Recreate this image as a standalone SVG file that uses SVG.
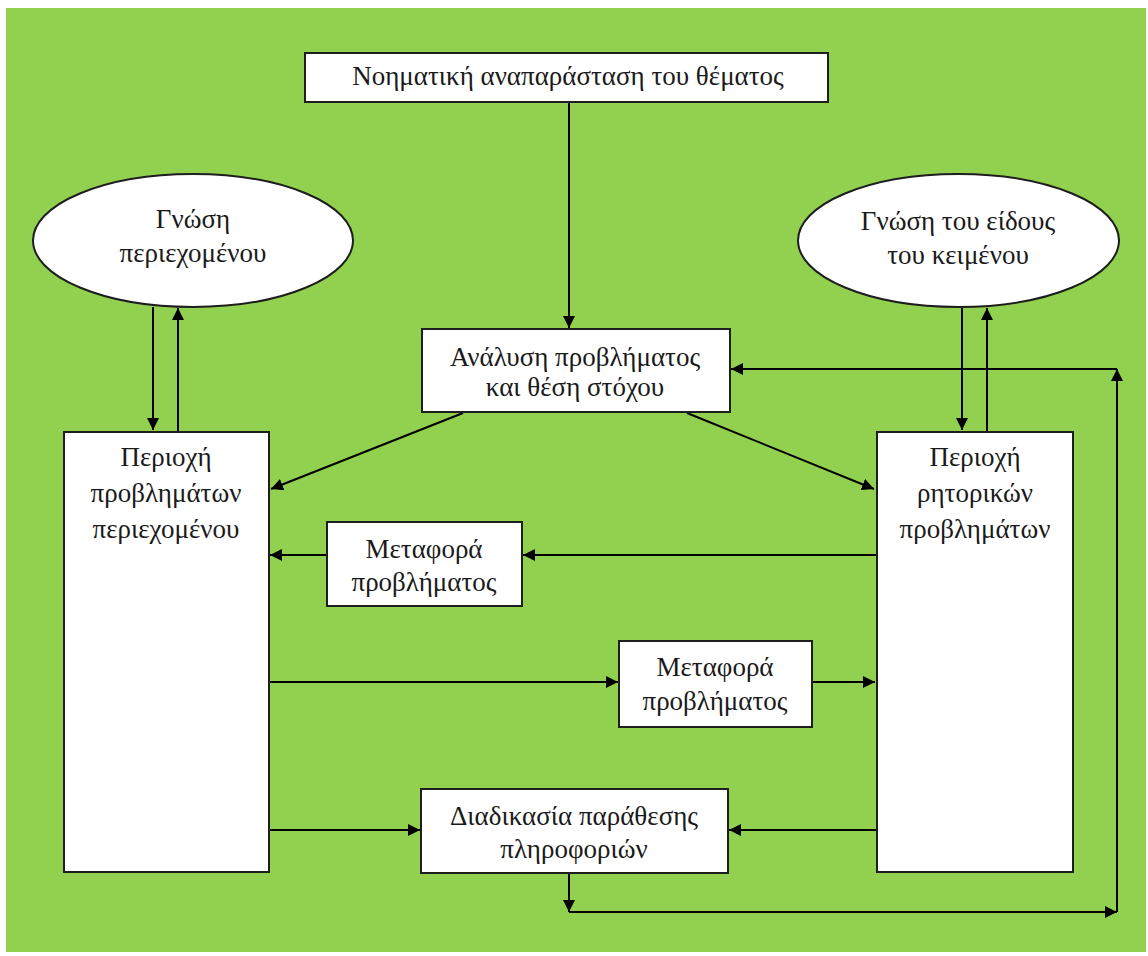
<svg xmlns="http://www.w3.org/2000/svg" width="1148" height="956" viewBox="0 0 1148 956">
  <style>
    .box { fill: #ffffff; stroke: #1e1e1e; stroke-width: 2; }
    .lbl { font-family: "Liberation Serif", "Times New Roman", serif; font-size: 27px; fill: #1a1a1a; text-anchor: middle; }
    .wire { fill: none; stroke: #000000; stroke-width: 2; }
    .arr { marker-end: url(#head); }
  </style>
  <defs>
    <marker id="head" markerUnits="userSpaceOnUse" markerWidth="13" markerHeight="12" refX="12" refY="6" orient="auto">
      <path d="M0,0 L12,6 L0,12 Z" fill="#000000"/>
    </marker>
  </defs>

  <!-- page -->
  <rect x="0" y="0" width="1148" height="956" fill="#ffffff"/>
  <rect x="6" y="8" width="1140" height="944" fill="#92D050"/>

  <!-- connectors -->
  <g id="connectors">
    <line class="wire arr" x1="569" y1="102" x2="569" y2="328"/>
    <line class="wire arr" x1="153" y1="307" x2="153" y2="430"/>
    <line class="wire arr" x1="178" y1="431" x2="178" y2="308"/>
    <line class="wire arr" x1="962" y1="307" x2="962" y2="430"/>
    <line class="wire arr" x1="987" y1="431" x2="987" y2="308"/>
    <line class="wire arr" x1="463" y1="413" x2="271" y2="489"/>
    <line class="wire arr" x1="687" y1="413" x2="874" y2="489"/>
    <line class="wire arr" x1="876" y1="555" x2="523" y2="555"/>
    <line class="wire arr" x1="327" y1="555" x2="270" y2="555"/>
    <line class="wire arr" x1="269" y1="682" x2="618" y2="682"/>
    <line class="wire arr" x1="812" y1="682" x2="875" y2="682"/>
    <line class="wire arr" x1="269" y1="830" x2="420" y2="830"/>
    <line class="wire arr" x1="876" y1="830" x2="729" y2="830"/>
    <line class="wire arr" x1="569" y1="873" x2="569" y2="912"/>
    <line class="wire arr" x1="569" y1="912" x2="1117" y2="912"/>
    <line class="wire arr" x1="1117" y1="912" x2="1117" y2="369"/>
    <line class="wire arr" x1="1117" y1="369" x2="731" y2="369"/>
  </g>

  <g id="topic">
    <rect class="box" x="305" y="53" width="523" height="49"/>
    <text class="lbl" x="568" y="85">Νοηματική αναπαράσταση του θέματος</text>
  </g>

  <g id="content-knowledge">
    <ellipse class="box" cx="193" cy="240.5" rx="160" ry="66.5"/>
    <text class="lbl" x="193" y="228">Γνώση</text>
    <text class="lbl" x="193" y="262">περιεχομένου</text>
  </g>

  <g id="genre-knowledge">
    <ellipse class="box" cx="958.5" cy="240.5" rx="160.5" ry="66.5"/>
    <text class="lbl" x="958" y="230">Γνώση του είδους</text>
    <text class="lbl" x="958" y="264">του κειμένου</text>
  </g>

  <g id="analysis">
    <rect class="box" x="422" y="329" width="308" height="83"/>
    <text class="lbl" x="575" y="366">Ανάλυση προβλήματος</text>
    <text class="lbl" x="575" y="396">και θέση στόχου</text>
  </g>

  <g id="content-space">
    <rect class="box" x="64" y="432" width="205" height="440"/>
    <text class="lbl" x="166" y="466">Περιοχή</text>
    <text class="lbl" x="166" y="502">προβλημάτων</text>
    <text class="lbl" x="166" y="538">περιεχομένου</text>
  </g>

  <g id="rhetorical-space">
    <rect class="box" x="877" y="432" width="196" height="440"/>
    <text class="lbl" x="975" y="466">Περιοχή</text>
    <text class="lbl" x="975" y="502">ρητορικών</text>
    <text class="lbl" x="975" y="538">προβλημάτων</text>
  </g>

  <g id="transfer-left">
    <rect class="box" x="327" y="522" width="195" height="84"/>
    <text class="lbl" x="424" y="558">Μεταφορά</text>
    <text class="lbl" x="424" y="591">προβλήματος</text>
  </g>

  <g id="transfer-right">
    <rect class="box" x="619" y="641" width="193" height="86"/>
    <text class="lbl" x="715" y="676">Μεταφορά</text>
    <text class="lbl" x="715" y="710">προβλήματος</text>
  </g>

  <g id="juxtaposition">
    <rect class="box" x="421" y="789" width="307" height="84"/>
    <text class="lbl" x="574" y="825">Διαδικασία παράθεσης</text>
    <text class="lbl" x="574" y="858">πληροφοριών</text>
  </g>
</svg>
